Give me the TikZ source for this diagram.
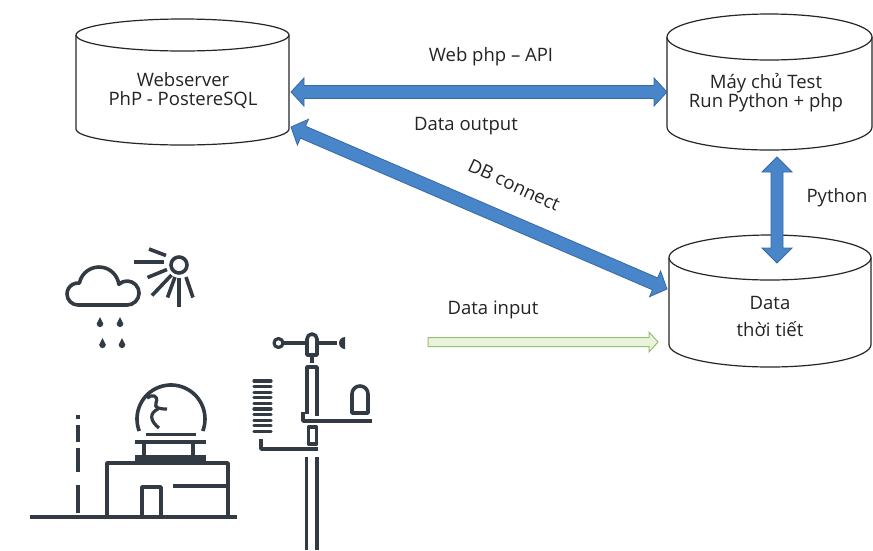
\documentclass[tikz,border=0pt]{standalone}
\usepackage{fontspec}
\setmainfont{Open Sans}
\usetikzlibrary{calc}

\definecolor{flowblue}{RGB}{72,133,201}
\definecolor{flowblueline}{RGB}{55,105,165}
\definecolor{inputfill}{RGB}{234,244,218}
\definecolor{inputline}{RGB}{150,192,115}
\definecolor{iconink}{RGB}{50,58,68}
\definecolor{labelink}{RGB}{35,35,35}

\tikzset{
  drumline/.style={draw=black!85, fill=white, line width=1.2pt},
  labeltext/.style={text=labelink, font=\fontsize{18.5pt}{19pt}\selectfont, inner sep=0pt, align=center},
  bigflow/.style={fill=flowblue, draw=flowblueline, line width=0.8pt, line join=miter},
  inflow/.style={fill=inputfill, draw=inputline, line width=1pt},
  icon/.style={draw=iconink, line width=3.6pt, line join=round},
}

% database drum: centre x, top ellipse y, bottom ellipse y, half width, ellipse half height
\newcommand\drum[5]{%
  \filldraw[drumline] (#1-#4,#2) -- (#1-#4,#3)
    arc[start angle=180,end angle=0,x radius=#4,y radius=#5] -- (#1+#4,#2);
  \filldraw[drumline] (#1,#2) ellipse[x radius=#4,y radius=#5];
}

% block arrow with two heads: style, from, to, head length, head half width, shaft half width
\newcommand\twinarrow[6]{%
  \path[#1] (#2)
    -- ($($(#2)!#4!(#3)$)!#5!90:(#3)$)
    -- ($($(#2)!#4!(#3)$)!#6!90:(#3)$)
    -- ($($(#3)!#4!(#2)$)!#6!-90:(#2)$)
    -- ($($(#3)!#4!(#2)$)!#5!-90:(#2)$)
    -- (#3)
    -- ($($(#3)!#4!(#2)$)!#5!90:(#2)$)
    -- ($($(#3)!#4!(#2)$)!#6!90:(#2)$)
    -- ($($(#2)!#4!(#3)$)!#6!-90:(#3)$)
    -- ($($(#2)!#4!(#3)$)!#5!-90:(#3)$)
    -- cycle;
}

% block arrow with one head at the second point
\newcommand\oneheadarrow[6]{%
  \path[#1] ($(#2)!#6!90:(#3)$)
    -- ($($(#3)!#4!(#2)$)!#6!-90:(#2)$)
    -- ($($(#3)!#4!(#2)$)!#5!-90:(#2)$)
    -- (#3)
    -- ($($(#3)!#4!(#2)$)!#5!90:(#2)$)
    -- ($($(#3)!#4!(#2)$)!#6!90:(#2)$)
    -- ($(#2)!#6!-90:(#3)$)
    -- cycle;
}

\begin{document}
\begin{tikzpicture}[x=1pt,y=-1pt]
\useasboundingbox[fill=white] (0,0) rectangle (873,550);

% ---------- databases ----------
\drum{182.5}{35}{129}{106.5}{16}
\drum{769.5}{37}{127}{102.5}{23}
\drum{770}{257.5}{344.5}{101}{22.5}

\node[labeltext] (web)  at (183,91)  {Webserver\\PhP - PostereSQL};
\node[labeltext] (test) at (766,93)  {Máy chủ Test\\Run Python + php};
\node[labeltext] (data) at (770,316) {Data\\[8pt]thời tiết};

% arrow end points on the drums
\coordinate (web-e)   at (291,92);
\coordinate (web-se)  at (291,127);
\coordinate (test-w)  at (667,92);
\coordinate (test-s)  at (777,157);
\coordinate (data-n)  at (777,263);
\coordinate (data-w)  at (667,289);
\coordinate (data-in) at (658,342);
\coordinate (station) at (428,342);

% ---------- connectors ----------
\twinarrow{bigflow}{web-e}{test-w}{13pt}{14pt}{6.5pt}
\twinarrow{bigflow}{web-se}{data-w}{13pt}{14pt}{6.5pt}
\twinarrow{bigflow}{test-s}{data-n}{15pt}{15pt}{6pt}
\oneheadarrow{inflow}{station}{data-in}{9pt}{10pt}{4.5pt}

\node[labeltext] (lapi)    at (491,57)  {Web php – API};
\node[labeltext] (lout)    at (466,126) {Data output};
\node[labeltext, rotate=-25] (ldb) at (514,185) {DB connect};
\node[labeltext] (lpy)     at (837,198) {Python};
\node[labeltext] (lin)     at (493,310) {Data input};

% ---------- weather icon: cloud, sun, rain ----------
\draw[icon] (78,305) arc[start angle=90,end angle=277.3,radius=11]
  arc[start angle=191.3,end angle=352.2,radius=20]
  arc[start angle=226.7,end angle=450,radius=12] -- cycle;
\draw[icon] (179,265) circle[radius=8];
\draw[icon] (134,262) -- (164,262);
\draw[icon] (149,249) -- (166,255.5);
\draw[icon] (147.5,277.5) -- (167,269.5);
\draw[icon] (152,295.5) -- (171.5,275);
\draw[icon] (167.5,297.5) -- (175,277);
\draw[icon] (179,306.5) -- (179,278);
\draw[icon] (193,297.5) -- (186,277);
\foreach \dx/\dy in {100/323, 120/323, 102.5/344, 122/344}
  \fill[iconink] (\dx,\dy-6) -- (\dx+3.3,\dy+0.8)
    arc[start angle=0,end angle=180,radius=3.3] -- cycle;

% ---------- weather icon: dome building ----------
\draw[icon, line width=4.2pt] (30,517) -- (237,517);
\draw[icon] (78,415) -- (78,419);
\draw[icon] (78,425) -- (78,442);
\draw[icon] (78,448) -- (78,472);
\draw[icon] (78,485) -- (78,513);
\draw[icon] (107,517) -- (107,463) -- (228,463) -- (228,517);
\draw[icon] (142,517) -- (142,487) -- (161,487) -- (161,517);
\draw[icon] (173,486) -- (228,486);
\fill[iconink] (135,455) rectangle (206,461);
\draw[icon] (144,442) -- (144,455);
\draw[icon] (193,442) -- (193,455);
\draw[icon] (135,442) -- (206,442);
\draw[icon] (146,434.5) -- (196,434.5);
\draw[icon] (139.2,431) arc[start angle=159.3,end angle=380.7,radius=34];
\draw[icon, line width=3.2pt] (147,398) .. controls (152,394) and (159,395) .. (156,403)
  .. controls (154,408) and (159,409) .. (167,409);
\draw[icon, line width=3.2pt] (158,409) .. controls (149,413) and (150,421) .. (159,428);

% ---------- weather icon: instrument mast ----------
\draw[icon, line width=3.2pt] (278.5,343) circle[radius=4.5];
\draw[icon] (283,343) -- (307,343);
\draw[icon] (307,355) -- (307,339) arc[start angle=180,end angle=360,radius=5] -- (317,355) -- cycle;
\draw[icon] (317,343) -- (337,343);
\fill[iconink] (345,337) -- (345,349) arc[start angle=90,end angle=270,radius=6] -- cycle;
\draw[icon] (312,355) -- (312,363);
\draw[icon] (307,414) -- (307,367) -- (317,367) -- (317,416);
\draw[icon] (303,412) -- (303,421) -- (372,421);
\draw[icon] (352,413) -- (352,394) arc[start angle=180,end angle=360,radius=8] -- (368,413) -- cycle;
\draw[icon] (308.5,427) rectangle (316.5,444);
\foreach \yy in {381,386.6,...,437}
  \draw[icon, line width=3.2pt, line cap=round] (254,\yy) -- (271,\yy);
\draw[icon] (261,439) -- (261,449) -- (318,449);
\draw[icon] (306.5,457) -- (306.5,550);
\draw[icon] (317,457) -- (317,550);
\end{tikzpicture}
\end{document}
